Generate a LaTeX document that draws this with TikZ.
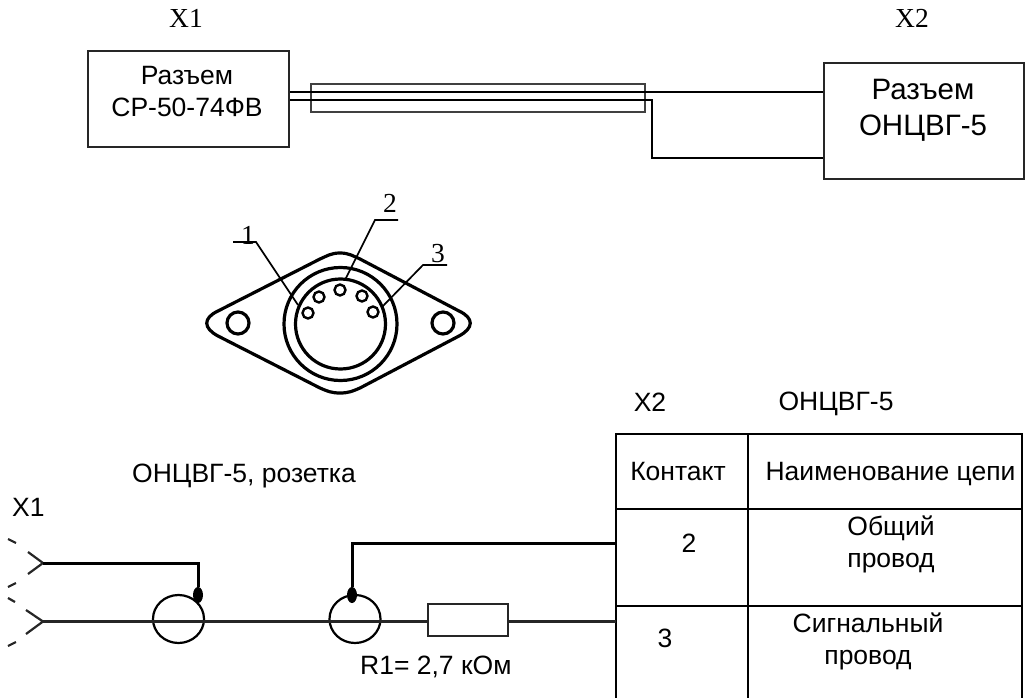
\documentclass[tikz,border=0pt]{standalone}
\usepackage{fontspec}
\usetikzlibrary{shapes.geometric}
\setmainfont{Liberation Sans}
\newfontfamily\serifnum{Liberation Serif}
\tikzset{
  x=1pt,y=-1pt,
  wire/.style={draw=black,line width=2pt},
  cablebox/.style={draw=black!75,line width=1.6pt,inner sep=0pt,anchor=north west},
  heavy wire/.style={draw=black,line width=3pt},
  fine wire/.style={draw=black!85,line width=2.2pt},
  boxed/.style={draw=black!85,line width=2.2pt,inner sep=0pt,anchor=north west},
  part/.style={draw=black,line width=3.2pt},
  leader/.style={draw=black,line width=1.7pt},
  grid/.style={draw=black,line width=2.8pt},
  lab/.style={inner sep=0pt,font=\fontsize{26.5}{32}\selectfont,align=center},
  big/.style={inner sep=0pt,font=\fontsize{29.5}{36}\selectfont,align=center},
  num/.style={inner sep=0pt,font=\serifnum\fontsize{27.5}{28}\selectfont},
  blob/.style={ellipse,fill=black,minimum width=10pt,minimum height=16pt,inner sep=0pt},
  ring/.style={ellipse,draw=black,line width=2.2pt,minimum width=51pt,minimum height=48pt,inner sep=0pt},
}
\begin{document}
\begin{tikzpicture}
\useasboundingbox (0,0) rectangle (1029,698);
% top connectors
\node[num] (x1t) at (186,18) {X1};
\node[num] (x2t) at (912,18) {X2};
\node[boxed,minimum width=201pt,minimum height=96pt] (b1) at (87,50) {};
\node[lab] (b1t) at (187,92) {Разъем\\СР-50-74ФВ};
\node[boxed,minimum width=200pt,minimum height=116pt] (b2) at (823,62) {};
\node[big] (b2t) at (923,110) {Разъем\\ОНЦВГ-5};
\node[cablebox,minimum width=334pt,minimum height=28pt] (cable) at (310,83) {};
\coordinate (k1) at (652,100);
\coordinate (k2) at (652,158);
\draw[wire] (b1.east |- 0,92) -- (b2.west |- 0,92);
\draw[wire] (b1.east |- 0,100) -- (k1) -- (k2) -- (b2.west |- k2);
% socket
\draw[part,line join=round] (340,253) .. controls (331,253) and (327,256) .. (320,259)
  -- (218,311) .. controls (203,318) and (203,328) .. (218,336)
  -- (320,388) .. controls (327,391) and (331,393) .. (340,393)
  .. controls (349,393) and (353,391) .. (360,388)
  -- (459,336) .. controls (474,328) and (474,318) .. (459,311)
  -- (360,259) .. controls (353,256) and (349,253) .. (340,253) -- cycle;
\node[part,circle,minimum size=113pt,inner sep=0pt] (c1) at (340.5,324) {};
\node[part,circle,minimum size=90pt,inner sep=0pt] (c2) at (340.5,324) {};
\node[part,circle,minimum size=22pt,inner sep=0pt] (h1) at (238,323) {};
\node[part,circle,minimum size=22pt,inner sep=0pt] (h2) at (443,323) {};
\foreach \n/\a/\b in {p1/308/313,p2/319/297,p3/340/290,p4/362/296,p5/373/312}
  \node[draw=black,line width=2.4pt,circle,minimum size=11pt,inner sep=0pt] (\n) at (\a,\b) {};
\coordinate (l1a) at (233,242); \coordinate (l1b) at (256,242); \coordinate (l1c) at (298,305);
\coordinate (l2a) at (398,220); \coordinate (l2b) at (375,220); \coordinate (l2c) at (345,280);
\coordinate (l3a) at (447,265); \coordinate (l3b) at (423,265); \coordinate (l3c) at (382,307);
\draw[leader] (l1a) -- (l1b) -- (l1c);
\draw[leader] (l2a) -- (l2b) -- (l2c);
\draw[leader] (l3a) -- (l3b) -- (l3c);
\node[num] (n1) at (248,235) {1};
\node[num] (n2) at (390,203) {2};
\node[num] (n3) at (438,254) {3};
% schematic
\node[lab,anchor=west] (ts) at (132,476) {ОНЦВГ-5, розетка};
\node[lab,anchor=west] (tx1) at (12,507) {X1};
\coordinate (a1) at (43,563); \coordinate (a2) at (43,621.5);
\draw[fine wire] (28,552) -- (a1) -- (28,574);
\draw[fine wire] (26,610) -- (a2) -- (26,634);
\draw[fine wire] (8,539) -- (16,543);
\draw[fine wire] (8,587) -- (16,583);
\draw[fine wire] (8,598) -- (15,602);
\draw[fine wire] (8,646) -- (16,642);
\node[ring] (r1) at (178.5,619) {};
\node[ring] (r2) at (355,619) {};
\node[blob] (bl1) at (198,595) {};
\node[blob] (bl2) at (352,595) {};
\node[boxed,fill=white,minimum width=80pt,minimum height=32pt] (res) at (427,603) {};
\node[inner sep=0pt,anchor=west,font=\fontsize{26.5}{30}\selectfont] (rt) at (360,667) {R1= 2,7 кОм};
% table
\coordinate (tl) at (616,434); \coordinate (tm) at (748,434); \coordinate (tr) at (1022,434);
\coordinate (bl) at (616,700); \coordinate (bm) at (748,700); \coordinate (br) at (1022,700);
\draw[grid] (bl) -- (tl) -- (tr) -- (br);
\draw[grid] (tm) -- (bm);
\draw[grid] (616,509) -- (1022,509);
\draw[grid] (616,606) -- (1022,606);
\coordinate (pin2) at (616,543); \coordinate (pin3) at (616,621.5);
\draw[heavy wire] (a1) -| (bl1.north);
\draw[heavy wire] (pin2) -| (bl2.north);
\draw[fine wire] (a2) -- (res.west |- a2);
\draw[fine wire] (res.east |- a2) -- (pin3);
\node[lab] (tx2) at (650,402) {X2};
\node[lab] (ton) at (836,404) {ОНЦВГ-5};
\node[lab] (tk) at (678,472) {Контакт};
\node[lab] (tn) at (890.5,474) {Наименование цепи};
\node[lab] (t2) at (689,543) {2};
\node[lab] (t3) at (665,638) {3};
\node[lab] (tc1) at (891,544) {Общий\\провод};
\node[lab] (tc2) at (868,641) {Сигнальный\\провод};
\end{tikzpicture}
\end{document}
